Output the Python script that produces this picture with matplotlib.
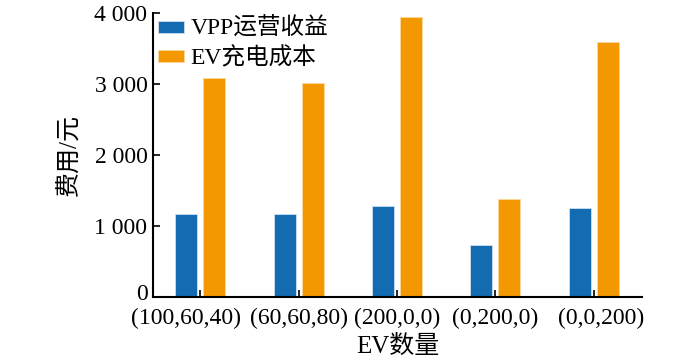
import numpy as np
import matplotlib
matplotlib.use('Agg')
import matplotlib.pyplot as plt
import matplotlib.transforms as mtransforms
from matplotlib.ticker import FuncFormatter

# DATA

CATEGORIES = ['(100,60,40)', '(60,60,80)', '(200,0,0)', '(0,200,0)', '(0,0,200)']
VPP_INCOME = [1165, 1170, 1282, 737, 1249]
EV_COST = [3080, 3019, 3939, 1376, 3587]

# VISUAL PARAMETERS

BLUE = '#136cb2'
ORANGE = '#f39800'
BARWIDTH = 0.225
OFFSET = 0.142
FONTSIZE = 17
LABEL_FONTSIZE = 18
# small horizontal nudges of the x tick labels (pixels), like in the original
LABEL_NUDGE = [-14, 0, 0, 0, 7]

plt.rcParams['font.family'] = ['Liberation Serif', 'Noto Sans CJK SC']
plt.rcParams['axes.unicode_minus'] = False

fig = plt.figure(figsize=(7, 3.61), dpi=100)
ax = fig.add_axes([0.2186, 0.177, 0.917 - 0.2186, 0.964 - 0.177])

x = np.arange(len(CATEGORIES))
ax.bar(x - OFFSET, VPP_INCOME, width=BARWIDTH, color=BLUE, edgecolor='#cfe0ef',
       linewidth=0.6, label='VPP运营收益')
ax.bar(x + OFFSET, EV_COST, width=BARWIDTH, color=ORANGE, edgecolor='#fbd9a0',
       linewidth=0.6, label='EV充电成本')

ax.set_xlim(-0.48, 4.49)
ax.set_ylim(0, 4000)
ax.set_xticks(x)
ax.set_xticklabels(CATEGORIES, fontsize=FONTSIZE)
ax.set_yticks([0, 1000, 2000, 3000, 4000])
ax.yaxis.set_major_formatter(FuncFormatter(
    lambda v, p: '{:,}'.format(int(v)).replace(',', ' ')))
ax.tick_params(axis='both', direction='in', length=5, width=1.2,
               labelsize=FONTSIZE)
ax.tick_params(axis='x', pad=7.5)
ax.tick_params(axis='y', pad=4)

for lab, dx in zip(ax.get_xticklabels(), LABEL_NUDGE):
    off = mtransforms.ScaledTranslation(dx / 100, 0, fig.dpi_scale_trans)
    lab.set_transform(lab.get_transform() + off)

# the "0" label sits a little higher in the original
zero_lab = ax.get_yticklabels()[0]
zero_lab.set_transform(zero_lab.get_transform() +
                       mtransforms.ScaledTranslation(0, 0.05, fig.dpi_scale_trans))

for s in ['top', 'right']:
    ax.spines[s].set_visible(False)
for s in ['left', 'bottom']:
    ax.spines[s].set_linewidth(1.5)

ax.set_ylabel('费用/元', fontsize=LABEL_FONTSIZE, labelpad=9)
ax.set_xlabel('EV数量', fontsize=LABEL_FONTSIZE, labelpad=4.5)

ax.legend(loc='upper left', frameon=False, fontsize=FONTSIZE,
          handlelength=1.1, handleheight=0.4, handletextpad=0.3,
          labelspacing=0.3, borderaxespad=0.0, borderpad=0.2,
          bbox_to_anchor=(0.0, 1.0))

plt.savefig('out.png', dpi=100)
